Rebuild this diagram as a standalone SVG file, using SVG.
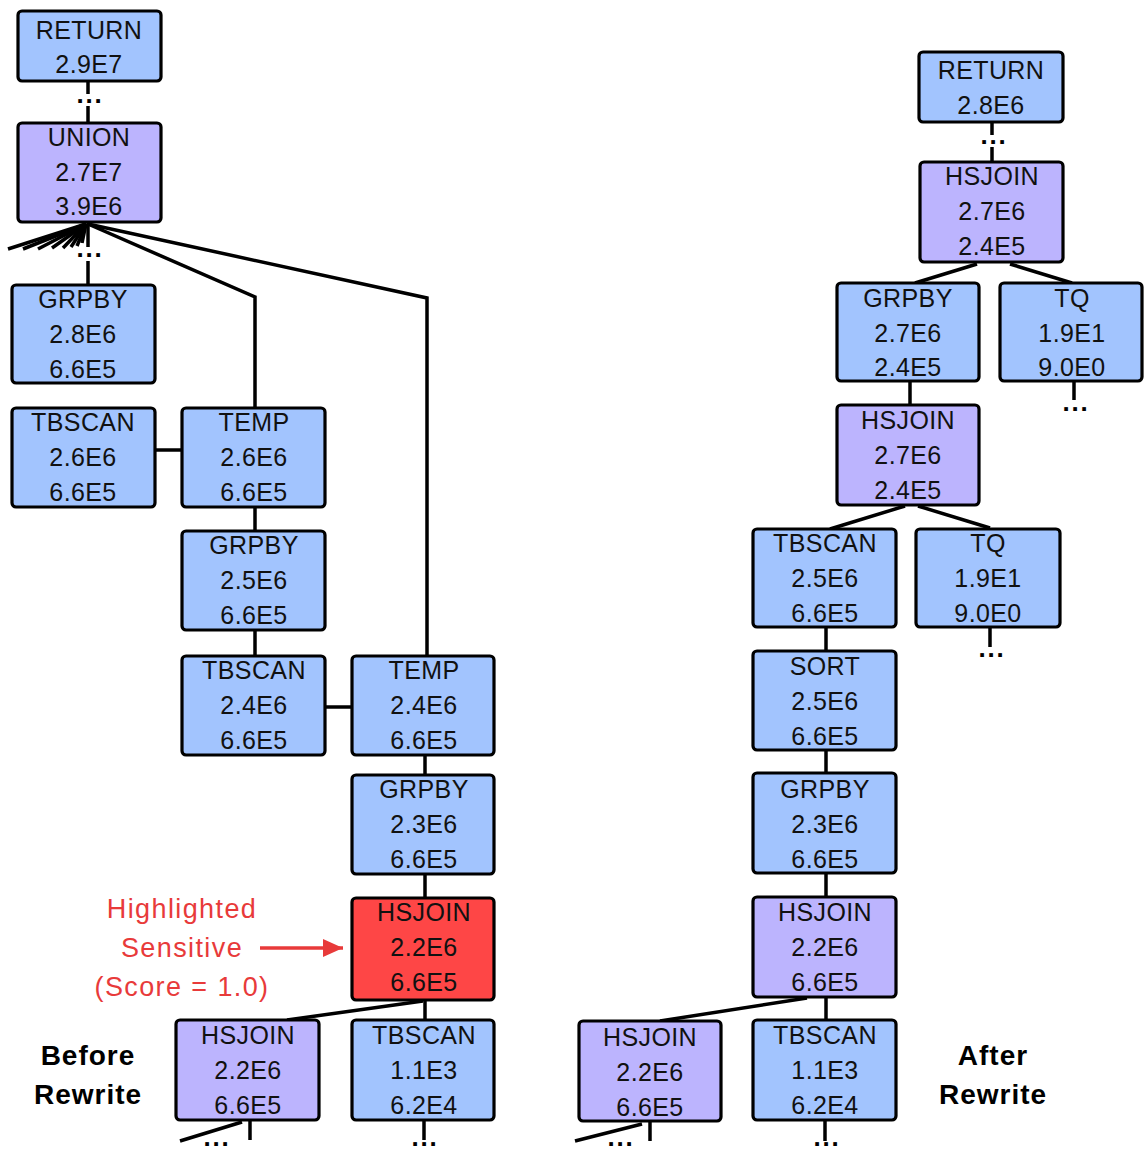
<svg xmlns="http://www.w3.org/2000/svg" width="1144" height="1152" viewBox="0 0 1144 1152">
<style>
.n rect{stroke:#000;stroke-width:3.2;rx:4;ry:4}
.b{fill:#a2c4fe}
.p{fill:#bcb4fe}
.r{fill:#fe4646}
.n text{font-family:"Liberation Sans",Arial,sans-serif;font-size:25px;text-anchor:middle;fill:#111;letter-spacing:0.4px}
.c line,.c polyline{stroke:#000;stroke-width:3.5;fill:none}
.d{font-family:"Liberation Sans",Arial,sans-serif;font-size:26px;font-weight:bold;text-anchor:middle;fill:#000;letter-spacing:1.8px}
.lab{font-family:"Liberation Sans",Arial,sans-serif;font-size:27px;text-anchor:middle;fill:#e83a3a;letter-spacing:1.4px}
.cap{font-family:"Liberation Sans",Arial,sans-serif;font-size:28px;font-weight:bold;text-anchor:middle;fill:#000;letter-spacing:1px}
</style>
<defs>
<marker id="ah" markerWidth="20" markerHeight="18" refX="20" refY="9" orient="auto" markerUnits="userSpaceOnUse" viewBox="0 0 20 18">
<path d="M0,0 L20,9 L0,18 Z" fill="#e83a3a"/>
</marker>
</defs>
<g class="c" id="connectors">
<line x1="88" y1="81" x2="88" y2="94"/>
<line x1="88" y1="106" x2="88" y2="123"/>
<line x1="86" y1="224" x2="8" y2="249"/>
<line x1="86" y1="224" x2="23" y2="249"/>
<line x1="86" y1="224" x2="38" y2="249"/>
<line x1="86" y1="224" x2="52" y2="248"/>
<line x1="86" y1="224" x2="63" y2="248"/>
<line x1="86" y1="224" x2="71" y2="247"/>
<line x1="86" y1="224" x2="77" y2="246"/>
<line x1="86" y1="224" x2="82" y2="243"/>
<line x1="88" y1="222" x2="88" y2="247"/>
<line x1="88" y1="261" x2="88" y2="285"/>
<polyline points="88,224 255,297 255,408"/>
<polyline points="88,224 427,298 427,656"/>
<line x1="155" y1="450" x2="182" y2="450"/>
<line x1="255" y1="507" x2="255" y2="531"/>
<line x1="255" y1="630" x2="255" y2="656"/>
<line x1="325" y1="707" x2="352" y2="707"/>
<line x1="425" y1="755" x2="425" y2="775"/>
<line x1="425" y1="874" x2="425" y2="898"/>
<line x1="423" y1="1001" x2="287" y2="1020"/>
<line x1="425" y1="1000" x2="425" y2="1020"/>
<line x1="250" y1="1120" x2="250" y2="1140"/>
<line x1="242" y1="1122" x2="180" y2="1141"/>
<line x1="424" y1="1120" x2="424" y2="1140"/>
<line x1="992" y1="122" x2="992" y2="135"/>
<line x1="992" y1="147" x2="992" y2="162"/>
<line x1="977" y1="264" x2="915" y2="283"/>
<line x1="1010" y1="264" x2="1072" y2="283"/>
<line x1="910" y1="381" x2="910" y2="405"/>
<line x1="1074" y1="381" x2="1074" y2="400"/>
<line x1="905" y1="506" x2="830" y2="529"/>
<line x1="918" y1="506" x2="990" y2="528"/>
<line x1="990" y1="627" x2="990" y2="647"/>
<line x1="826" y1="627" x2="826" y2="651"/>
<line x1="826" y1="750" x2="826" y2="773"/>
<line x1="826" y1="873" x2="826" y2="897"/>
<line x1="807" y1="998" x2="660" y2="1021"/>
<line x1="826" y1="997" x2="826" y2="1020"/>
<line x1="650" y1="1121" x2="650" y2="1141"/>
<line x1="642" y1="1124" x2="575" y2="1141"/>
<line x1="825" y1="1120" x2="825" y2="1141"/>
<line x1="260" y1="948" x2="343" y2="948" style="stroke:#e83a3a" marker-end="url(#ah)"/>
</g>
<g id="dots">
<text class="d" x="90" y="103">...</text>
<text class="d" x="90" y="257">...</text>
<text class="d" x="217" y="1146">...</text>
<text class="d" x="425" y="1146">...</text>
<text class="d" x="994" y="144">...</text>
<text class="d" x="1076" y="411">...</text>
<text class="d" x="992" y="657">...</text>
<text class="d" x="621" y="1146">...</text>
<text class="d" x="827" y="1146">...</text>
</g>
<g class="n" id="l-return"><rect class="b" x="18" y="11" width="143" height="70"/><text x="89" y="39">RETURN</text><text x="89" y="73">2.9E7</text></g>
<g class="n" id="l-union"><rect class="p" x="18" y="123" width="143" height="99"/><text x="89" y="146">UNION</text><text x="89" y="181">2.7E7</text><text x="89" y="215">3.9E6</text></g>
<g class="n" id="l-grpby1"><rect class="b" x="12" y="285" width="143" height="98"/><text x="83" y="308">GRPBY</text><text x="83" y="343">2.8E6</text><text x="83" y="378">6.6E5</text></g>
<g class="n" id="l-tbscan1"><rect class="b" x="12" y="408" width="143" height="99"/><text x="83" y="431">TBSCAN</text><text x="83" y="466">2.6E6</text><text x="83" y="501">6.6E5</text></g>
<g class="n" id="l-temp1"><rect class="b" x="182" y="408" width="143" height="99"/><text x="254" y="431">TEMP</text><text x="254" y="466">2.6E6</text><text x="254" y="501">6.6E5</text></g>
<g class="n" id="l-grpby2"><rect class="b" x="182" y="531" width="143" height="99"/><text x="254" y="554">GRPBY</text><text x="254" y="589">2.5E6</text><text x="254" y="624">6.6E5</text></g>
<g class="n" id="l-tbscan2"><rect class="b" x="182" y="656" width="143" height="99"/><text x="254" y="679">TBSCAN</text><text x="254" y="714">2.4E6</text><text x="254" y="749">6.6E5</text></g>
<g class="n" id="l-temp2"><rect class="b" x="352" y="656" width="142" height="99"/><text x="424" y="679">TEMP</text><text x="424" y="714">2.4E6</text><text x="424" y="749">6.6E5</text></g>
<g class="n" id="l-grpby3"><rect class="b" x="352" y="775" width="142" height="99"/><text x="424" y="798">GRPBY</text><text x="424" y="833">2.3E6</text><text x="424" y="868">6.6E5</text></g>
<g class="n" id="l-hsjoin-red"><rect class="r" x="352" y="898" width="142" height="102"/><text x="424" y="921">HSJOIN</text><text x="424" y="956">2.2E6</text><text x="424" y="991">6.6E5</text></g>
<g class="n" id="l-hsjoin2"><rect class="p" x="176" y="1020" width="143" height="100"/><text x="248" y="1044">HSJOIN</text><text x="248" y="1079">2.2E6</text><text x="248" y="1114">6.6E5</text></g>
<g class="n" id="l-tbscan3"><rect class="b" x="352" y="1020" width="142" height="100"/><text x="424" y="1044">TBSCAN</text><text x="424" y="1079">1.1E3</text><text x="424" y="1114">6.2E4</text></g>
<g class="n" id="r-return"><rect class="b" x="919" y="52" width="144" height="70"/><text x="991" y="79">RETURN</text><text x="991" y="114">2.8E6</text></g>
<g class="n" id="r-hsjoin1"><rect class="p" x="920" y="162" width="143" height="100"/><text x="992" y="185">HSJOIN</text><text x="992" y="220">2.7E6</text><text x="992" y="255">2.4E5</text></g>
<g class="n" id="r-grpby1"><rect class="b" x="837" y="283" width="142" height="98"/><text x="908" y="307">GRPBY</text><text x="908" y="342">2.7E6</text><text x="908" y="376">2.4E5</text></g>
<g class="n" id="r-tq1"><rect class="b" x="1000" y="283" width="142" height="98"/><text x="1072" y="307">TQ</text><text x="1072" y="342">1.9E1</text><text x="1072" y="376">9.0E0</text></g>
<g class="n" id="r-hsjoin2"><rect class="p" x="837" y="405" width="142" height="100"/><text x="908" y="429">HSJOIN</text><text x="908" y="464">2.7E6</text><text x="908" y="499">2.4E5</text></g>
<g class="n" id="r-tbscan1"><rect class="b" x="753" y="529" width="143" height="98"/><text x="825" y="552">TBSCAN</text><text x="825" y="587">2.5E6</text><text x="825" y="622">6.6E5</text></g>
<g class="n" id="r-tq2"><rect class="b" x="916" y="529" width="144" height="98"/><text x="988" y="552">TQ</text><text x="988" y="587">1.9E1</text><text x="988" y="622">9.0E0</text></g>
<g class="n" id="r-sort"><rect class="b" x="753" y="651" width="143" height="99"/><text x="825" y="675">SORT</text><text x="825" y="710">2.5E6</text><text x="825" y="745">6.6E5</text></g>
<g class="n" id="r-grpby2"><rect class="b" x="753" y="773" width="143" height="100"/><text x="825" y="798">GRPBY</text><text x="825" y="833">2.3E6</text><text x="825" y="868">6.6E5</text></g>
<g class="n" id="r-hsjoin3"><rect class="p" x="753" y="897" width="143" height="100"/><text x="825" y="921">HSJOIN</text><text x="825" y="956">2.2E6</text><text x="825" y="991">6.6E5</text></g>
<g class="n" id="r-hsjoin4"><rect class="p" x="579" y="1021" width="142" height="100"/><text x="650" y="1046">HSJOIN</text><text x="650" y="1081">2.2E6</text><text x="650" y="1116">6.6E5</text></g>
<g class="n" id="r-tbscan2"><rect class="b" x="753" y="1020" width="143" height="100"/><text x="825" y="1044">TBSCAN</text><text x="825" y="1079">1.1E3</text><text x="825" y="1114">6.2E4</text></g>
<g id="labels">
<text class="lab" x="182" y="918">Highlighted</text>
<text class="lab" x="182" y="957">Sensitive</text>
<text class="lab" x="182" y="996">(Score = 1.0)</text>
<text class="cap" x="88" y="1065">Before</text>
<text class="cap" x="88" y="1104">Rewrite</text>
<text class="cap" x="993" y="1065">After</text>
<text class="cap" x="993" y="1104">Rewrite</text>
</g>
</svg>
